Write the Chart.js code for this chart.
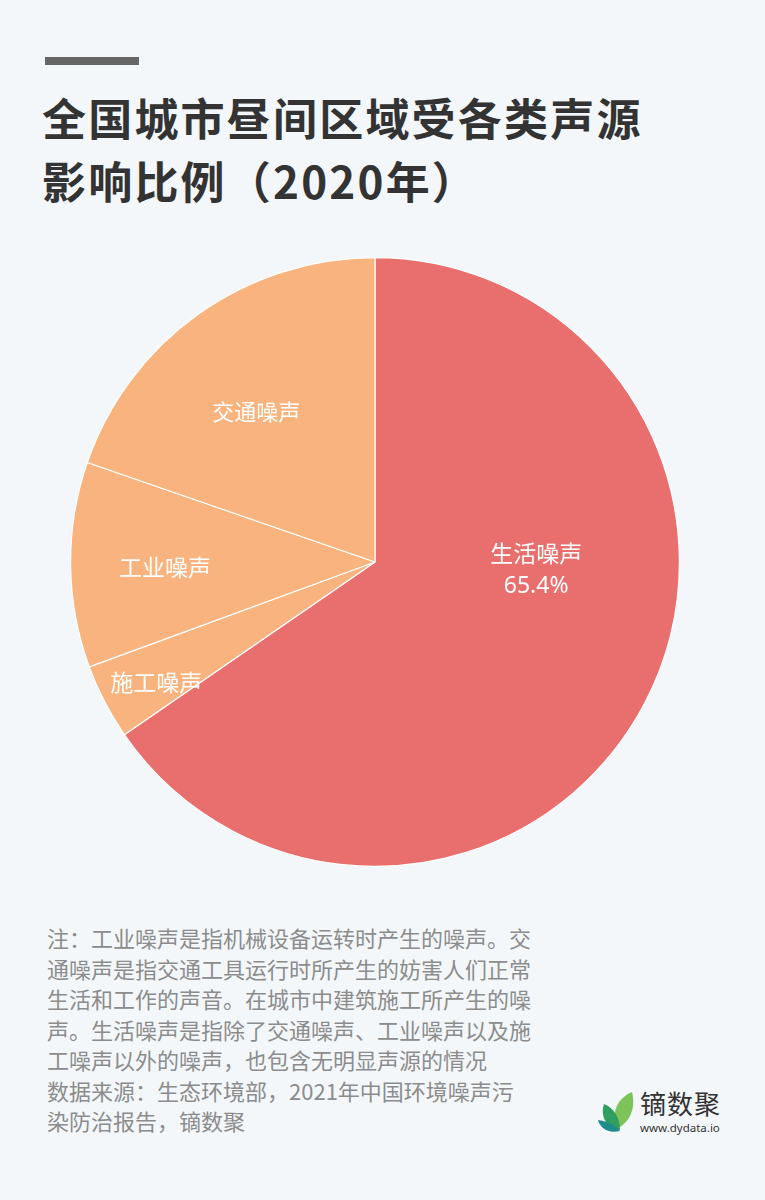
<!DOCTYPE html>
<html>
<head>
<meta charset="utf-8">
<script src="https://cdn.jsdelivr.net/npm/chart.js@4.4.1/dist/chart.umd.min.js"></script>
<style>
  html, body { margin: 0; padding: 0; }
  body {
    width: 765px; height: 1200px; position: relative; overflow: hidden;
    background: #f3f7fa;
    font-family: "Noto Sans CJK SC", "Noto Sans", sans-serif;
  }
  .bar { position: absolute; left: 45px; top: 57px; width: 94px; height: 8px; background: #666; }
  h1 {
    position: absolute; left: 42px; top: 86px; margin: 0;
    font-size: 44px; line-height: 63px; font-weight: 700; color: #333; letter-spacing: 2.2px;
  }
  #wrap { position: absolute; left: 70px; top: 257px; width: 610px; height: 610px; }
  .note {
    position: absolute; left: 47px; top: 922px; margin: 0;
    font-size: 22px; line-height: 30.5px; color: #8c8c8c; white-space: pre;
  }
  .logo { position: absolute; left: 596px; top: 1090px; }
  .logo .name { position: absolute; left: 44px; top: -6px; font-size: 26px; color: #333; white-space: nowrap; letter-spacing: 1px; }
  .logo .url { position: absolute; left: 44px; top: 30px; font-size: 11.5px; color: #333; font-family: "Noto Sans", sans-serif; white-space: nowrap; }
</style>
</head>
<body>
<div class="bar"></div>
<h1>全国城市昼间区域受各类声源<br>影响比例（2020年）</h1>
<div id="wrap"><canvas id="pieChart" width="610" height="610"></canvas></div>
<p class="note">注：工业噪声是指机械设备运转时产生的噪声。交
通噪声是指交通工具运行时所产生的妨害人们正常
生活和工作的声音。在城市中建筑施工所产生的噪
声。生活噪声是指除了交通噪声、工业噪声以及施
工噪声以外的噪声，也包含无明显声源的情况
数据来源：生态环境部，2021年中国环境噪声污
染防治报告，镝数聚</p>
<div class="logo">
  <svg width="42" height="44" viewBox="0 0 42 44">
    <path d="M36 2 C22 8 14 22 22 38 C34 32 40 18 36 2 Z" fill="#7cc35a"/>
    <path d="M8 14 C4 26 10 38 24 40 C24 28 18 18 8 14 Z" fill="#2f9e5e"/>
    <path d="M2 30 C4 38 12 44 24 41 C18 34 10 31 2 30 Z" fill="#1f8c8c"/>
  </svg>
  <div class="name">镝数聚</div>
  <div class="url">www.dydata.io</div>
</div>
<script>
const categories = ['生活噪声', '施工噪声', '工业噪声', '交通噪声'];
const shares = [65.4, 4.0, 10.9, 19.7];
const sliceColors = ['#e86f6e', '#f9b37e', '#f9b37e', '#f9b37e'];
const showPercent = [true, false, false, false];

// where each label sits: fraction of the slice's sweep, fraction of radius
const labelAngleFrac = [0.394, 0.40, 0.48, 0.46];
const labelRadiusFrac = [0.53, 0.82, 0.69, 0.63];
const labelSize = [23, 23, 23, 22];

const sliceLabels = {
  id: 'sliceLabels',
  afterDatasetsDraw(chart) {
    const ctx = chart.ctx;
    const arcs = chart.getDatasetMeta(0).data;
    ctx.save();
    ctx.fillStyle = '#fff';
    ctx.textAlign = 'center';
    ctx.textBaseline = 'middle';
    arcs.forEach((arc, i) => {
      const p = arc.getProps(['x', 'y', 'startAngle', 'endAngle', 'outerRadius'], true);
      const a = p.startAngle + (p.endAngle - p.startAngle) * labelAngleFrac[i];
      const r = p.outerRadius * labelRadiusFrac[i];
      const x = p.x + Math.cos(a) * r;
      const y = p.y + Math.sin(a) * r;
      ctx.font = labelSize[i] + 'px "Noto Sans CJK SC", sans-serif';
      if (showPercent[i]) {
        ctx.fillText(categories[i], x, y - 17);
        ctx.font = labelSize[i] + 'px "Noto Sans", sans-serif';
        ctx.fillText(shares[i].toFixed(1) + '%', x, y + 17);
      } else {
        ctx.fillText(categories[i], x, y);
      }
    });
    ctx.restore();
  }
};

new Chart(document.getElementById('pieChart'), {
  type: 'pie',
  data: {
    labels: categories,
    datasets: [{
      data: shares,
      backgroundColor: sliceColors,
      borderColor: '#ffffff',
      borderWidth: 1.2
    }]
  },
  options: {
    responsive: false,
    animation: false,
    layout: { padding: 0 },
    plugins: {
      legend: { display: false },
      tooltip: { enabled: false }
    }
  },
  plugins: [sliceLabels]
});
</script>
</body>
</html>
